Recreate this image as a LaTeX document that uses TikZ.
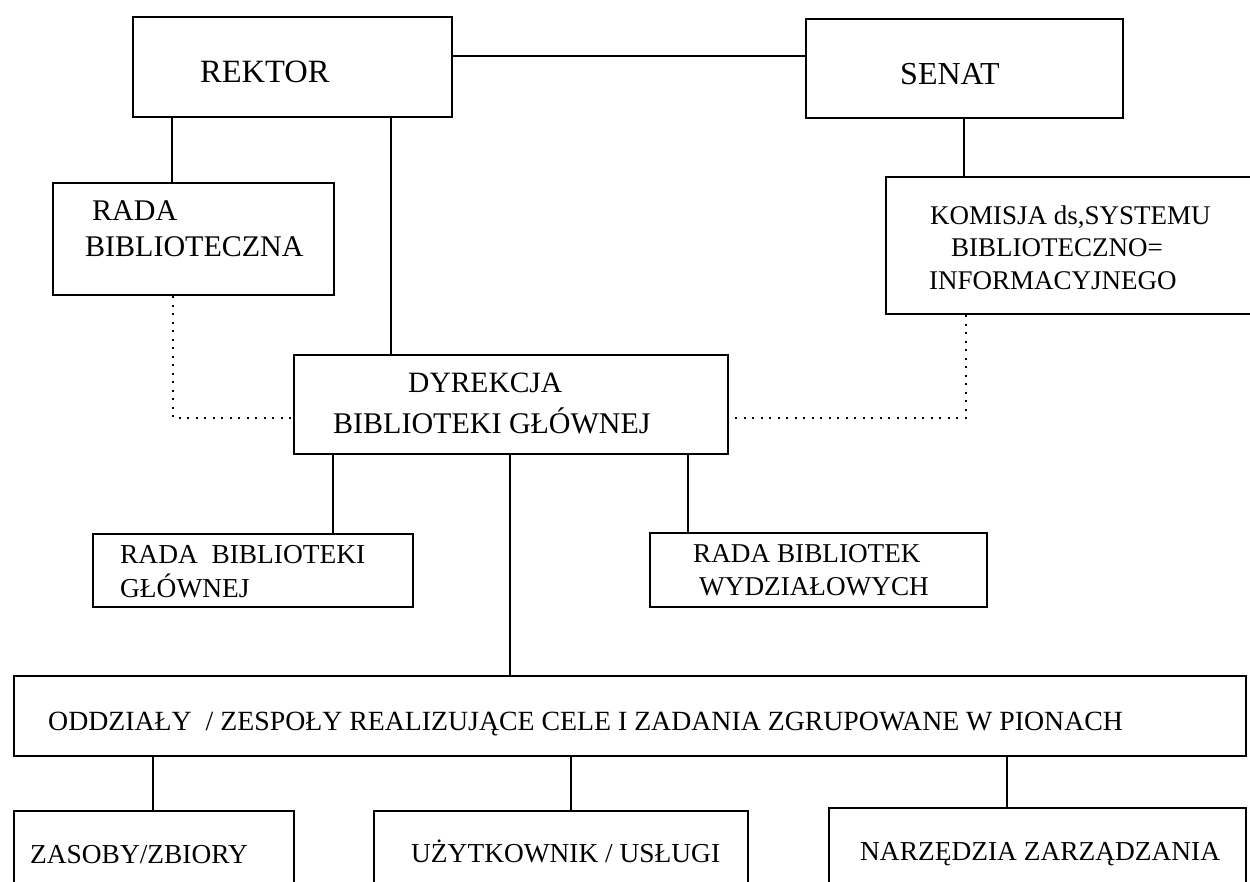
\documentclass[tikz,border=0pt]{standalone}
\usepackage{fontspec}
\setmainfont{Liberation Serif}
\usetikzlibrary{calc}
\begin{document}
\begin{tikzpicture}[x=1pt,y=-1pt]
\tikzset{
  box/.style={draw, line width=2.4pt, rectangle, inner sep=0pt, anchor=north west},
  conn/.style={line width=2.4pt},
  dots/.style={line width=2.2pt, dash pattern=on 2pt off 6.5pt},
  txt/.style={anchor=base west, inner sep=0pt, font=\fontsize{27.4}{30}\selectfont},
  bigtxt/.style={txt, font=\fontsize{30}{34}\selectfont},
}
\useasboundingbox[fill=white] (0,0) rectangle (1250,882);
% boxes
\node[box, minimum width=319pt, minimum height=100pt] (rektor) at (132,16) {};
\node[box, minimum width=317pt, minimum height=99pt] (senat) at (805,18) {};
\node[box, minimum width=281pt, minimum height=112pt] (radab) at (52,182) {};
\node[box, minimum width=367pt, minimum height=137pt] (komisja) at (885,176) {};
\node[box, minimum width=434pt, minimum height=99pt] (dyr) at (293,354) {};
\node[box, minimum width=320pt, minimum height=73pt] (rbg) at (92,533) {};
\node[box, minimum width=337pt, minimum height=74pt] (rbw) at (649,532) {};
\node[box, minimum width=1232pt, minimum height=80pt] (oddz) at (13,675) {};
\node[box, minimum width=280pt, minimum height=90pt] (zas) at (13,810) {};
\node[box, minimum width=374pt, minimum height=90pt] (uzyt) at (373,810) {};
\node[box, minimum width=417pt, minimum height=95pt] (narz) at (828,807) {};
% texts
\node[txt, font=\fontsize{32.5}{36}\selectfont] (trektor) at (200,83) {REKTOR};
\node[txt, font=\fontsize{32}{36}\selectfont] (tsenat) at (900,85) {SENAT};
\node[bigtxt] (tradab1) at (92,221) {RADA};
\node[bigtxt] (tradab2) at (85,257) {BIBLIOTECZNA};
\node[txt, font=\fontsize{27}{30}\selectfont] (tkom1) at (930,225) {KOMISJA ds,SYSTEMU};
\node[txt, font=\fontsize{27}{30}\selectfont] (tkom2) at (951,257) {BIBLIOTECZNO=};
\node[txt, font=\fontsize{27}{30}\selectfont] (tkom3) at (929,290) {INFORMACYJNEGO};
\node[bigtxt, font=\fontsize{29.5}{34}\selectfont] (tdyr1) at (408,392) {DYREKCJA};
\node[bigtxt] (tdyr2) at (333,433) {BIBLIOTEKI GŁÓWNEJ};
\node[txt] (trbg1) at (120,563) {RADA\ \ BIBLIOTEKI};
\node[txt] (trbg2) at (120,597) {GŁÓWNEJ};
\node[txt, font=\fontsize{27.2}{30}\selectfont] (trbw1) at (693,562) {RADA BIBLIOTEK};
\node[txt, font=\fontsize{27.2}{30}\selectfont] (trbw2) at (699,595) {WYDZIAŁOWYCH};
\node[txt, font=\fontsize{27.8}{30}\selectfont] (toddz) at (48,730) {ODDZIAŁY\ \ / ZESPOŁY REALIZUJĄCE CELE I ZADANIA ZGRUPOWANE W PIONACH};
\node[txt] (tzas) at (30,863) {ZASOBY/ZBIORY};
\node[txt] (tuzyt) at (411,862) {UŻYTKOWNIK / USŁUGI};
\node[txt] (tnarz) at (860,860) {NARZĘDZIA ZARZĄDZANIA};
% helper coordinates
\coordinate (ya) at (0,56);
\coordinate (xa) at (172,0);
\coordinate (xb) at (391,0);
\coordinate (xc) at (964,0);
\coordinate (xd) at (173,418);
\coordinate (xe) at (966,418);
\coordinate (xf) at (333,0);
\coordinate (xg) at (688,0);
\coordinate (xh) at (510,0);
\coordinate (xi) at (153,0);
\coordinate (xj) at (571,0);
\coordinate (xk) at (1007,0);
% connectors
\draw[conn] (rektor.east |- ya) -- (senat.west |- ya);
\draw[conn] (rektor.south -| xa) -- (radab.north -| xa);
\draw[conn] (rektor.south -| xb) -- (dyr.north -| xb);
\draw[conn] (senat.south -| xc) -- (komisja.north -| xc);
\draw[dots] (radab.south -| xd) -- (xd) -- (dyr.west |- xd);
\draw[dots] (komisja.south -| xe) -- (xe) -- (dyr.east |- xe);
\draw[conn] (dyr.south -| xf) -- (rbg.north -| xf);
\draw[conn] (dyr.south -| xg) -- (rbw.north -| xg);
\draw[conn] (dyr.south -| xh) -- (oddz.north -| xh);
\draw[conn] (oddz.south -| xi) -- (zas.north -| xi);
\draw[conn] (oddz.south -| xj) -- (uzyt.north -| xj);
\draw[conn] (oddz.south -| xk) -- (narz.north -| xk);
\end{tikzpicture}
\end{document}
